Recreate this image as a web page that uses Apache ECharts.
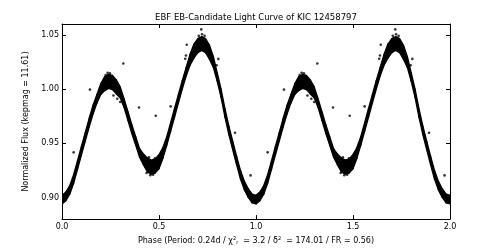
<!DOCTYPE html>
<html><head><meta charset="utf-8">
<script src="https://cdn.jsdelivr.net/npm/echarts@6/dist/echarts.min.js"></script>
<style>html,body{margin:0;padding:0;background:#fff}#c{width:500px;height:250px}</style>
</head><body><div id="c"></div>
<script>
// Folded light curve band (phase 0..1, drawn twice: phase and phase+1)
const phase = [0.00,0.02,0.04,0.06,0.08,0.10,0.12,0.14,0.16,0.18,0.20,0.22,0.24,0.26,0.28,0.30,0.32,0.34,0.36,0.38,0.40,0.42,0.44,0.46,0.48,0.50,0.52,0.54,0.56,0.58,0.60,0.62,0.64,0.66,0.68,0.70,0.72,0.74,0.76,0.78,0.80,0.82,0.84,0.86,0.88,0.90,0.92,0.94,0.96,0.98,1.00];
const fluxLower = [0.894,0.897,0.903,0.913,0.926,0.939,0.952,0.965,0.977,0.987,0.995,0.9985,1.0005,0.9995,0.9955,0.992,0.983,0.971,0.959,0.948,0.937,0.930,0.9235,0.9215,0.9225,0.9265,0.936,0.948,0.961,0.974,0.987,1.000,1.012,1.022,1.0285,1.0335,1.0355,1.0335,1.0275,1.020,1.007,0.992,0.974,0.958,0.944,0.930,0.917,0.907,0.900,0.895,0.894];
const fluxUpper = [0.902,0.905,0.911,0.921,0.934,0.947,0.960,0.973,0.985,0.995,1.005,1.0115,1.0135,1.0125,1.0085,1.002,0.991,0.979,0.967,0.956,0.945,0.940,0.9365,0.9345,0.9355,0.9395,0.946,0.956,0.969,0.982,0.995,1.008,1.020,1.032,1.0415,1.0465,1.0485,1.0465,1.0405,1.030,1.015,1.000,0.982,0.966,0.952,0.938,0.925,0.915,0.908,0.903,0.902];
// Individual scattered points and outliers
const dotPhase = [0.316,0.144,0.397,0.483,0.560,0.718,0.643,0.806,0.797,0.060,0.892,0.972,0.635,0.639,0.705,0.722,0.735,0.235,0.247,0.225,0.265,0.285,0.300,0.436,0.455,0.470,0.479,0.448];
const dotFlux  = [1.0236,0.9995,0.983,0.9754,0.984,1.055,1.0408,1.0278,1.022,0.9416,0.9597,0.9203,1.028,1.031,1.049,1.0505,1.049,1.015,1.0146,1.013,0.994,0.991,0.988,0.9226,0.9205,0.921,0.936,0.937];
const cycles = [0, 1];
const xTicks = [0, 0.5, 1.0, 1.5, 2.0];
const yTicks = [0.90, 0.95, 1.00, 1.05];

const bandData = [];
cycles.forEach(c => {
  for (let i = 0; i < phase.length - 1; i++) {
    bandData.push([phase[i] + c, fluxLower[i], fluxUpper[i], phase[i+1] + c, fluxLower[i+1], fluxUpper[i+1]]);
  }
});
const dotData = [];
cycles.forEach(c => dotPhase.forEach((p, j) => dotData.push([p + c, dotFlux[j]])));

const FONT = '"DejaVu Sans", sans-serif';
const axisCommon = {
  axisLine: {show: true, onZero: false, lineStyle: {color: '#000', width: 1}},
  splitLine: {show: false}
};
const chart = echarts.init(document.getElementById('c'), null, {renderer: 'canvas'});
chart.setOption({
  animation: false,
  backgroundColor: '#fff',
  grid: {left: 62, top: 24, width: 388, height: 200},
  graphic: [{
    type: 'text', x: 256, y: 18,
    style: {text: 'EBF EB-Candidate Light Curve of KIC 12458797', align: 'center', verticalAlign: 'middle',
            font: '8.5px ' + FONT, fill: '#000'}
  }],
  xAxis: [
    Object.assign({
      type: 'value', min: 0, max: 2, interval: 0.5, position: 'bottom',
      axisTick: {show: true, inside: true, length: 4, lineStyle: {color: '#000'}},
      axisLabel: {show: true, margin: 4, fontSize: 8, fontFamily: FONT, color: '#000',
        formatter: v => v.toFixed(1), customValues: xTicks},
      name: '{n|Phase (Period: 0.24d / χ}{sup|2}{sub|r}{n|  = 3.2 / δ}{sup|2}{n|  = 174.01 / FR = 0.56)}',
      nameLocation: 'middle', nameGap: 13,
      nameTextStyle: {fontSize: 8, fontFamily: FONT, color: '#000',
        rich: {
          n: {fontSize: 8, fontFamily: FONT, color: '#000'},
          sup: {fontSize: 5, fontFamily: FONT, color: '#000', verticalAlign: 'top', padding: [0,0,4,0]},
          sub: {fontSize: 5, fontFamily: FONT, color: '#000', verticalAlign: 'bottom', padding: [3,0,0,0]}
        }}
    }, axisCommon),
    Object.assign({
      type: 'value', min: 0, max: 2, interval: 0.5, position: 'top',
      axisTick: {show: true, inside: true, length: 4, lineStyle: {color: '#000'}},
      axisLabel: {show: false}
    }, axisCommon)
  ],
  yAxis: [
    Object.assign({
      type: 'value', min: 0.88, max: 1.06, position: 'left',
      axisTick: {show: true, inside: true, length: 4, customValues: yTicks, lineStyle: {color: '#000'}},
      axisLabel: {show: true, margin: 3, fontSize: 8, fontFamily: FONT, color: '#000',
        customValues: yTicks, formatter: v => v.toFixed(2)},
      name: 'Normalized Flux (kepmag = 11.61)', nameLocation: 'middle', nameGap: 25,
      nameTextStyle: {fontSize: 8, fontFamily: FONT, color: '#000'}
    }, axisCommon),
    Object.assign({
      type: 'value', min: 0.88, max: 1.06, position: 'right',
      axisTick: {show: true, inside: true, length: 4, customValues: yTicks, lineStyle: {color: '#000'}},
      axisLabel: {show: false}
    }, axisCommon)
  ],
  series: [
    {
      type: 'custom', xAxisIndex: 0, yAxisIndex: 0, clip: true,
      data: bandData,
      encode: {x: [0, 3], y: [1, 2, 4, 5]},
      renderItem: (params, api) => {
        const a = api.coord([api.value(0), api.value(2)]);
        const b = api.coord([api.value(3), api.value(5)]);
        const c = api.coord([api.value(3), api.value(4)]);
        const d = api.coord([api.value(0), api.value(1)]);
        return {type: 'polygon', shape: {points: [a, b, c, d]},
                style: {fill: '#000', stroke: '#000', lineWidth: 1.3, lineJoin: 'round'}};
      },
      silent: true
    },
    {
      type: 'scatter', xAxisIndex: 0, yAxisIndex: 0, data: dotData,
      symbol: 'circle', symbolSize: 2.6, itemStyle: {color: '#000'}, silent: true
    }
  ]
});
</script></body></html>
